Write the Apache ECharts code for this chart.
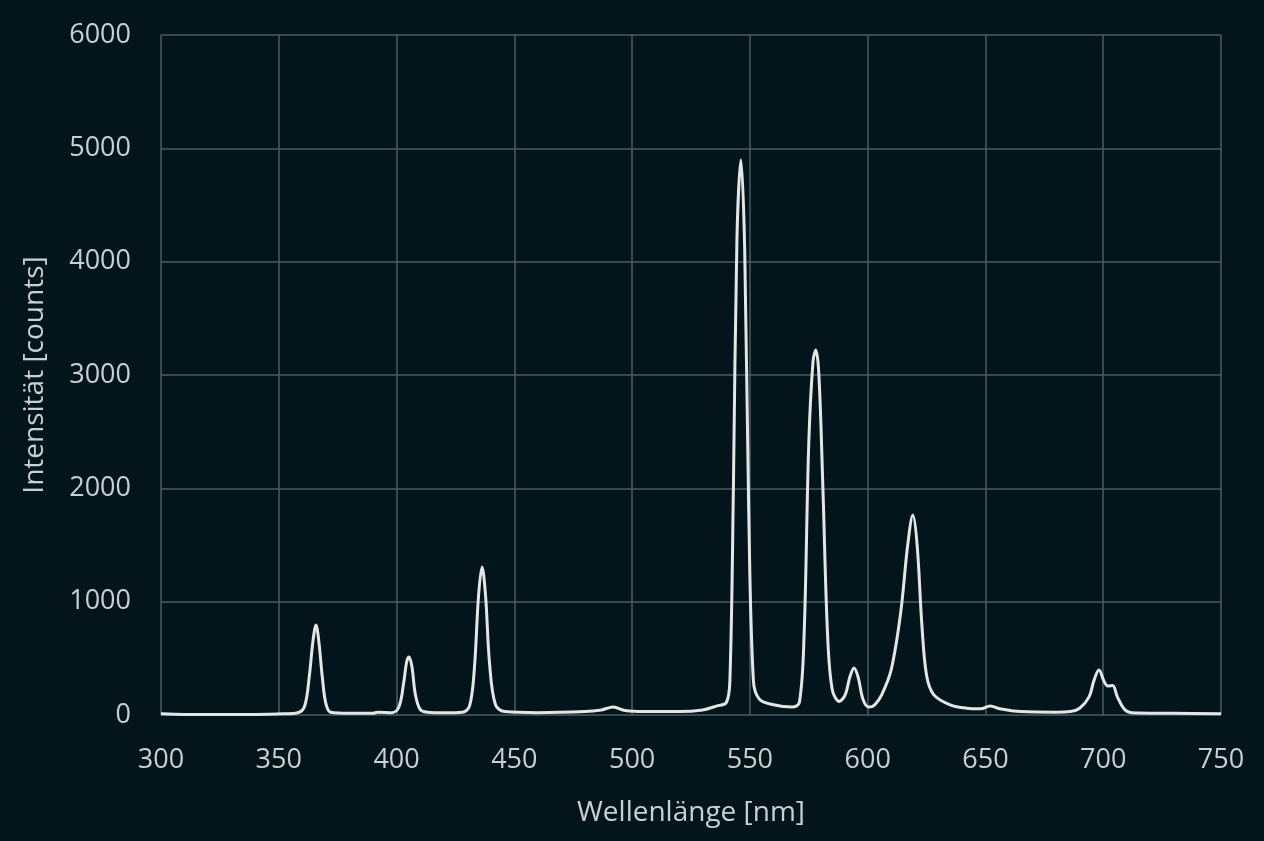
<!DOCTYPE html>
<html>
<head>
<meta charset="utf-8">
<script src="https://cdn.jsdelivr.net/npm/echarts@6/dist/echarts.min.js"></script>
<style>
  html, body { margin: 0; padding: 0; background: #03151b; }
  #chart { width: 1264px; height: 841px; }
</style>
</head>
<body>
<div id="chart"></div>
<script>
// Spektrum: Wellenlänge [nm] und Intensität [counts]
var wavelength = [300, 310, 320, 340, 352, 358, 361, 363, 364.5, 365.8, 367, 368.5, 370, 372, 380, 390, 392, 398, 401, 403, 404.3, 405.3, 406.5, 408, 410, 413, 420, 428, 431, 433, 434.8, 436.3, 437.8, 439.5, 442, 446, 460, 480, 487, 492, 497, 505, 520, 530, 536, 540, 541.5, 543, 544.5, 546.2, 547.8, 549.5, 551.5, 554, 560, 568, 571, 573, 575, 576.8, 578, 579.3, 581, 583, 585, 588, 590.5, 592.5, 594.2, 596, 598, 600.5, 603, 606, 610, 614, 617, 619.2, 621, 623, 625, 628, 635, 642, 648, 652, 656, 665, 680, 686, 690, 694, 696, 698.2, 700.5, 702, 704, 706, 709, 712, 730, 750];
var intensity  = [10, 5, 5, 5, 10, 20, 80, 350, 650, 794, 650, 330, 100, 25, 15, 15, 25, 20, 70, 280, 470, 512, 430, 180, 50, 25, 20, 25, 80, 400, 1050, 1306, 1050, 450, 90, 30, 20, 30, 45, 70, 40, 30, 30, 45, 80, 110, 300, 2000, 4200, 4897, 4100, 1800, 300, 140, 90, 70, 110, 700, 2400, 3120, 3220, 3000, 2000, 700, 220, 120, 180, 340, 415, 330, 140, 70, 90, 180, 400, 900, 1500, 1765, 1500, 800, 350, 180, 90, 60, 55, 80, 55, 30, 25, 30, 60, 160, 300, 397, 290, 255, 260, 160, 50, 20, 15, 10];
var xTicks = [300, 350, 400, 450, 500, 550, 600, 650, 700, 750];
var yTicks = [0, 1000, 2000, 3000, 4000, 5000, 6000];

var points = [];
for (var i = 0; i < wavelength.length; i++) {
  points.push([wavelength[i], intensity[i]]);
}

var myChart = echarts.init(document.getElementById('chart'));
var textColor = '#c9cfd2';
var gridColor = '#4b5c62';
var option = {
  backgroundColor: '#03151b',
  animation: false,
  grid: { left: 161, right: 43, top: 35, bottom: 126 },
  xAxis: {
    type: 'value',
    min: xTicks[0], max: xTicks[xTicks.length - 1], interval: 50,
    name: 'Wellenlänge [nm]',
    nameLocation: 'middle', nameGap: 84,
    nameTextStyle: { color: textColor, fontSize: 28, fontFamily: 'Open Sans' },
    axisLine: { show: false },
    axisTick: { show: false },
    axisLabel: { color: textColor, fontSize: 27, fontFamily: 'Open Sans', margin: 32, formatter: function (v) { return String(v); } },
    splitLine: { show: true, lineStyle: { color: gridColor, width: 1.5 } }
  },
  yAxis: {
    type: 'value',
    min: yTicks[0], max: yTicks[yTicks.length - 1], interval: 1000,
    name: 'Intensität [counts]',
    nameLocation: 'middle', nameGap: 112, nameRotate: 90,
    nameTextStyle: { color: textColor, fontSize: 28, fontFamily: 'Open Sans' },
    axisLine: { show: false },
    axisTick: { show: false },
    axisLabel: { color: textColor, fontSize: 27, fontFamily: 'Open Sans', margin: 30, formatter: function (v) { return String(v); } },
    splitLine: { show: true, lineStyle: { color: gridColor, width: 1.5 } }
  },
  series: [{
    type: 'line',
    data: points,
    smooth: 0.35,
    symbol: 'none',
    lineStyle: { color: '#e4e6e6', width: 3 }
  }]
};
myChart.setOption(option);
</script>
</body>
</html>
